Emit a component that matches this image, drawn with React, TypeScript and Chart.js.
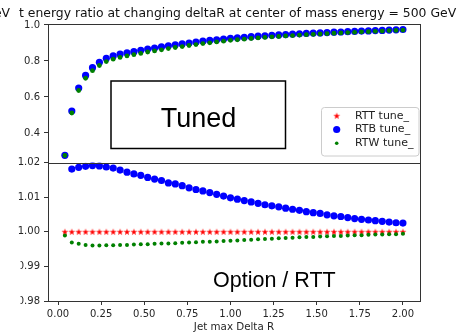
import React, { useEffect, useRef } from "react";
import { Chart, registerables } from "chart.js";

Chart.register(...registerables);

// Jet max Delta R values (x axis)
const deltaR = [
  0.04, 0.08, 0.12, 0.16, 0.2, 0.24, 0.28, 0.32, 0.36, 0.4,
  0.44, 0.48, 0.52, 0.56, 0.6, 0.64, 0.68, 0.72, 0.76, 0.8,
  0.84, 0.88, 0.92, 0.96, 1.0, 1.04, 1.08, 1.12, 1.16, 1.2,
  1.24, 1.28, 1.32, 1.36, 1.4, 1.44, 1.48, 1.52, 1.56, 1.6,
  1.64, 1.68, 1.72, 1.76, 1.8, 1.84, 1.88, 1.92, 1.96, 2.0,
];

// Upper panel: tuned jet energy ratios
const rtbTuned = [
  0.276, 0.522, 0.65, 0.72, 0.763, 0.793, 0.815, 0.828, 0.838, 0.845,
  0.852, 0.859, 0.866, 0.872, 0.878, 0.884, 0.89, 0.895, 0.9, 0.905,
  0.91, 0.914, 0.918, 0.922, 0.926, 0.929, 0.932, 0.935, 0.938, 0.94,
  0.943, 0.945, 0.947, 0.949, 0.951, 0.953, 0.955, 0.956, 0.958, 0.96,
  0.961, 0.963, 0.964, 0.966, 0.967, 0.969, 0.97, 0.972, 0.973, 0.975,
];
const rtwTuned = [
  0.275, 0.511, 0.636, 0.704, 0.746, 0.775, 0.797, 0.81, 0.82, 0.828,
  0.835, 0.842, 0.85, 0.856, 0.862, 0.869, 0.875, 0.88, 0.886, 0.891,
  0.897, 0.901, 0.906, 0.91, 0.915, 0.918, 0.921, 0.925, 0.928, 0.931,
  0.934, 0.936, 0.939, 0.941, 0.944, 0.946, 0.948, 0.95, 0.952, 0.954,
  0.956, 0.958, 0.959, 0.962, 0.963, 0.965, 0.966, 0.969, 0.97, 0.972,
];

// Lower panel: option / RTT
const rttRatio = [
  1.0, 1.0, 1.0, 1.0, 1.0, 1.0, 1.0, 1.0, 1.0, 1.0,
  1.0, 1.0, 1.0, 1.0, 1.0, 1.0, 1.0, 1.0, 1.0, 1.0,
  1.0, 1.0, 1.0, 1.0, 1.0, 1.0, 1.0, 1.0, 1.0, 1.0,
  1.0, 1.0, 1.0, 1.0, 1.0, 1.0, 1.0, 1.0, 1.0, 1.0,
  1.0, 1.0, 1.0, 1.0, 1.0, 1.0, 1.0, 1.0, 1.0, 1.0,
];
const rtbRatio = [
  1.024, 1.0181, 1.0186, 1.0189, 1.0191, 1.019, 1.0187, 1.0184, 1.0178, 1.0172,
  1.0167, 1.0163, 1.0157, 1.0152, 1.0148, 1.0141, 1.0138, 1.0133, 1.0127, 1.0122,
  1.0118, 1.0113, 1.0108, 1.0103, 1.0098, 1.0094, 1.009, 1.0086, 1.0082, 1.0078,
  1.0075, 1.0072, 1.0068, 1.0065, 1.0062, 1.0058, 1.0055, 1.0053, 1.0049, 1.0046,
  1.0044, 1.0041, 1.0038, 1.0036, 1.0034, 1.0032, 1.003, 1.0028, 1.0026, 1.0025,
];
const rtwRatio = [
  0.9989, 0.9969, 0.9965, 0.9962, 0.996, 0.996, 0.9961, 0.9961, 0.9962, 0.9962,
  0.9963, 0.9964, 0.9964, 0.9965, 0.9966, 0.9966, 0.9967, 0.9968, 0.9969, 0.997,
  0.9971, 0.9971, 0.9972, 0.9973, 0.9974, 0.9975, 0.9976, 0.9977, 0.9978, 0.9979,
  0.998, 0.9981, 0.9982, 0.9983, 0.9984, 0.9985, 0.9985, 0.9986, 0.9987, 0.9988,
  0.9988, 0.9989, 0.999, 0.999, 0.9991, 0.9992, 0.9992, 0.9993, 0.9993, 0.9994,
];

const xTicks = [0, 0.25, 0.5, 0.75, 1.0, 1.25, 1.5, 1.75, 2.0];
const topTicks = [0.4, 0.6, 0.8, 1.0];
const ratioTicks = [0.98, 0.99, 1.0, 1.01, 1.02];
const seriesNames = ["RTT tune_", "RTB tune_", "RTW tune_"];

const RED = "#ff0000";
const BLUE = "#0000ff";
const GREEN = "#008000";
const TICK_FONT = { family: "'DejaVu Sans'", size: 10 };
const TICK_COLOR = "#262626";

function makeStar(size: number, color: string): HTMLCanvasElement {
  const c = document.createElement("canvas");
  c.width = size;
  c.height = size;
  const g = c.getContext("2d")!;
  const cx = size / 2;
  const cy = size / 2;
  const R = size / 2 - 0.4;
  const r = R * 0.382;
  g.beginPath();
  for (let k = 0; k < 10; k++) {
    const rad = k % 2 === 0 ? R : r;
    const a = -Math.PI / 2 + (k * Math.PI) / 5;
    const px = cx + rad * Math.cos(a);
    const py = cy + rad * Math.sin(a) + 0.4;
    if (k === 0) g.moveTo(px, py);
    else g.lineTo(px, py);
  }
  g.closePath();
  g.fillStyle = color;
  g.fill();
  return c;
}

const pts = (ys: number[]) => deltaR.map((x, i) => ({ x, y: ys[i] }));

const tickGrid = { display: true, drawOnChartArea: false, drawTicks: true, tickLength: 4, color: "#333" };

export default function App() {
  const ref = useRef<HTMLCanvasElement | null>(null);

  useEffect(() => {
    const canvas = ref.current;
    if (!canvas) return;
    const star = makeStar(8, RED);

    const overlay = {
      id: "overlay",
      afterDatasetsDraw(chart: any) {
        const ctx = chart.ctx as CanvasRenderingContext2D;
        const { left, right } = chart.chartArea;
        ctx.save();

        // panel frames
        ctx.strokeStyle = "#333";
        ctx.lineWidth = 1;
        for (const id of ["yTop", "yRatio"]) {
          const s = chart.scales[id];
          const l = Math.round(left) + 0.5;
          const t = Math.round(s.top) + 0.5;
          ctx.strokeRect(l, t, Math.round(right) - Math.round(left), Math.round(s.bottom) - Math.round(s.top));
        }

        // legend
        ctx.beginPath();
        (ctx as any).roundRect(321.5, 107.5, 97.5, 48.5, 3);
        ctx.fillStyle = "rgba(255,255,255,0.8)";
        ctx.fill();
        ctx.strokeStyle = "#cccccc";
        ctx.stroke();
        const rows = [115.7, 129.5, 143.3];
        const mx = 336.7;
        ctx.drawImage(star, mx - star.width / 2, rows[0] - star.height / 2);
        ctx.fillStyle = BLUE;
        ctx.beginPath();
        ctx.arc(mx, rows[1], 3.6, 0, Math.PI * 2);
        ctx.fill();
        ctx.fillStyle = GREEN;
        ctx.beginPath();
        ctx.arc(mx, rows[2], 1.8, 0, Math.PI * 2);
        ctx.fill();
        ctx.fillStyle = "#222";
        ctx.font = "11px 'DejaVu Sans'";
        ctx.textBaseline = "middle";
        ctx.textAlign = "left";
        seriesNames.forEach((n, i) => ctx.fillText(n, 355, rows[i]));

        // "Tuned" annotation box
        ctx.strokeStyle = "#000";
        ctx.lineWidth = 1.5;
        ctx.strokeRect(111, 81, 174.5, 67.5);
        ctx.fillStyle = "#000";
        ctx.font = "27px 'Liberation Sans'";
        ctx.textAlign = "center";
        ctx.textBaseline = "alphabetic";
        ctx.fillText("Tuned", 198.5, 126.7);

        // lower panel annotation
        ctx.font = "21.5px 'Liberation Sans'";
        ctx.textAlign = "left";
        ctx.fillText("Option / RTT", 213, 286.7);

        // axis label
        ctx.fillStyle = "#262626";
        ctx.font = "10.3px 'DejaVu Sans'";
        ctx.textAlign = "center";
        ctx.textBaseline = "middle";
        ctx.fillText("Jet max Delta R", 234, 327.5);

        // title
        ctx.fillStyle = "#111";
        ctx.font = "12.4px 'DejaVu Sans'";
        ctx.textAlign = "left";
        ctx.textBaseline = "alphabetic";
        ctx.fillText("eV", -6.1, 17);
        ctx.fillText("t energy ratio at changing deltaR at center of mass energy = 500 GeV", 19, 17);

        // left edge of the lowest tick labels is blanked out
        ctx.fillStyle = "#fff";
        ctx.fillRect(0, 258, 20.5, 50);

        ctx.restore();
      },
      afterDraw(chart: any) {
        // upper panel tick labels
        const ctx = chart.ctx as CanvasRenderingContext2D;
        const yTop = chart.scales.yTop;
        const { left } = chart.chartArea;
        ctx.save();
        ctx.fillStyle = TICK_COLOR;
        ctx.font = "10px 'DejaVu Sans'";
        ctx.textAlign = "right";
        ctx.textBaseline = "middle";
        for (const v of topTicks) {
          ctx.fillText(v.toFixed(1), Math.round(left) - 8, yTop.getPixelForValue(v));
        }
        ctx.restore();
      },
    };

    const chart = new Chart(canvas, {
      type: "scatter",
      data: {
        datasets: [
          {
            label: "RTW top",
            data: pts(rtwTuned),
            yAxisID: "yTop",
            pointStyle: "circle",
            pointRadius: 2.4,
            backgroundColor: GREEN,
            borderColor: GREEN,
            borderWidth: 0,
            order: 0,
          },
          {
            label: "RTB top",
            data: pts(rtbTuned),
            yAxisID: "yTop",
            pointStyle: "circle",
            pointRadius: 3.6,
            backgroundColor: BLUE,
            borderColor: BLUE,
            borderWidth: 0,
            order: 1,
          },
          {
            label: seriesNames[2],
            data: pts(rtwRatio),
            yAxisID: "yRatio",
            pointStyle: "circle",
            pointRadius: 2.0,
            backgroundColor: GREEN,
            borderColor: GREEN,
            borderWidth: 0,
            order: 0,
          },
          {
            label: seriesNames[1],
            data: pts(rtbRatio),
            yAxisID: "yRatio",
            pointStyle: "circle",
            pointRadius: 3.6,
            backgroundColor: BLUE,
            borderColor: BLUE,
            borderWidth: 0,
            order: 1,
          },
          {
            label: seriesNames[0],
            data: pts(rttRatio),
            yAxisID: "yRatio",
            pointStyle: star as any,
            pointRadius: 3.5,
            backgroundColor: RED,
            borderColor: RED,
            borderWidth: 0,
            order: 2,
          },
        ],
      },
      options: {
        responsive: false,
        animation: false,
        devicePixelRatio: 1,
        events: [],
        layout: { padding: { top: 24, right: 41, left: 0, bottom: 0 } },
        plugins: { legend: { display: false }, tooltip: { enabled: false }, title: { display: false } },
        scales: {
          x: {
            type: "linear",
            position: "bottom",
            min: -0.058,
            max: 2.099,
            afterBuildTicks: (s: any) => {
              s.ticks = xTicks.map((v) => ({ value: v }));
            },
            afterFit: (s: any) => {
              s.height = 34;
            },
            ticks: {
              callback: (v: any) => Number(v).toFixed(2),
              font: TICK_FONT,
              color: TICK_COLOR,
              padding: 3,
              maxRotation: 0,
              autoSkip: false,
            },
            grid: tickGrid,
            border: { display: false },
          },
          // lower (ratio) panel is declared first so it sits at the bottom of the stack
          yRatio: {
            type: "linear",
            position: "left",
            stack: "panels",
            stackWeight: 1,
            min: 0.98,
            max: 1.02,
            afterBuildTicks: (s: any) => {
              s.ticks = ratioTicks.map((v) => ({ value: v }));
            },
            afterFit: (s: any) => {
              s.width = 48;
            },
            ticks: {
              callback: (v: any) => Number(v).toFixed(2),
              font: TICK_FONT,
              color: TICK_COLOR,
              padding: 4,
              autoSkip: false,
            },
            grid: tickGrid,
            border: { display: false },
          },
          yTop: {
            type: "linear",
            position: "left",
            stack: "panels",
            stackWeight: 1,
            min: 0.236,
            max: 1.0055,
            afterBuildTicks: (s: any) => {
              s.ticks = topTicks.map((v) => ({ value: v }));
            },
            afterFit: (s: any) => {
              s.width = 48;
            },
            // labels for this panel are written by the overlay plugin
            ticks: { display: false, autoSkip: false },
            grid: tickGrid,
            border: { display: false },
          },
        },
      } as any,
      plugins: [overlay],
    });

    return () => chart.destroy();
  }, []);

  return (
    <div style={{ position: "absolute", left: 0, top: 0, width: 461, height: 335, background: "#fff" }}>
      <canvas ref={ref} width={461} height={335} style={{ display: "block" }} />
    </div>
  );
}
